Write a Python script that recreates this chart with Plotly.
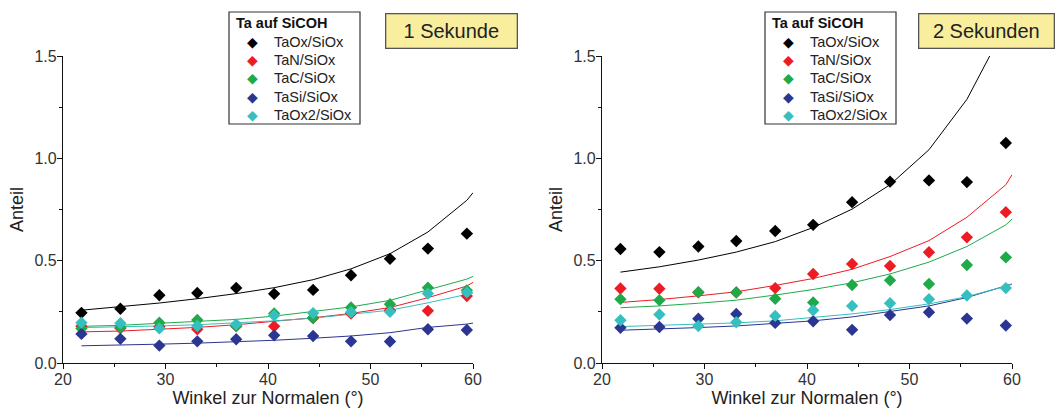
import plotly.graph_objects as go

angles = [21.8, 25.6, 29.4, 33.1, 36.9, 40.6, 44.4, 48.1, 51.9, 55.6, 59.4]
fit_angles = [21.8, 25.6, 29.4, 33.1, 36.9, 40.6, 44.4, 48.1, 51.9, 55.6, 59.4, 60.0]

series_names = ["TaOx/SiOx", "TaN/SiOx", "TaC/SiOx", "TaSi/SiOx", "TaOx2/SiOx"]
colors = ["#000000", "#ec1c24", "#1faa4a", "#2b3592", "#35bfbf"]

# 1 Sekunde
p1_taox = [0.245, 0.265, 0.331, 0.342, 0.367, 0.338, 0.357, 0.429, 0.509, 0.559, 0.632]
p1_tan = [0.180, 0.170, 0.177, 0.165, 0.180, 0.179, 0.219, 0.242, 0.258, 0.255, 0.327]
p1_tac = [0.168, 0.174, 0.197, 0.210, 0.180, 0.242, 0.221, 0.271, 0.287, 0.368, 0.355]
p1_tasi = [0.142, 0.118, 0.085, 0.106, 0.116, 0.135, 0.132, 0.106, 0.105, 0.165, 0.161]
p1_taox2 = [0.197, 0.194, 0.169, 0.181, 0.189, 0.232, 0.244, 0.248, 0.250, 0.339, 0.345]

f1_taox = [0.258, 0.274, 0.293, 0.314, 0.339, 0.368, 0.407, 0.460, 0.534, 0.640, 0.795, 0.832]
f1_tan = [0.152, 0.156, 0.165, 0.174, 0.187, 0.203, 0.221, 0.242, 0.271, 0.319, 0.376, 0.394]
f1_tac = [0.179, 0.184, 0.194, 0.202, 0.213, 0.229, 0.250, 0.274, 0.306, 0.356, 0.410, 0.423]
f1_tasi = [0.084, 0.087, 0.092, 0.097, 0.103, 0.111, 0.121, 0.132, 0.148, 0.174, 0.190, 0.195]
f1_taox2 = [0.173, 0.176, 0.181, 0.187, 0.195, 0.206, 0.219, 0.237, 0.258, 0.294, 0.335, 0.342]

# 2 Sekunden
p2_taox = [0.557, 0.542, 0.569, 0.596, 0.645, 0.675, 0.786, 0.886, 0.892, 0.884, 1.075]
p2_tan = [0.364, 0.363, 0.345, 0.345, 0.366, 0.435, 0.484, 0.474, 0.541, 0.614, 0.737]
p2_tac = [0.312, 0.307, 0.346, 0.345, 0.314, 0.296, 0.381, 0.404, 0.386, 0.479, 0.516]
p2_tasi = [0.172, 0.176, 0.216, 0.240, 0.196, 0.204, 0.162, 0.234, 0.248, 0.217, 0.183]
p2_taox2 = [0.209, 0.237, 0.181, 0.199, 0.230, 0.258, 0.279, 0.292, 0.312, 0.330, 0.366]

f2_taox = [0.444, 0.470, 0.503, 0.542, 0.593, 0.662, 0.752, 0.871, 1.042, 1.288, 1.650, 1.720]
f2_tan = [0.296, 0.310, 0.328, 0.348, 0.379, 0.413, 0.458, 0.520, 0.598, 0.712, 0.871, 0.920]
f2_tac = [0.270, 0.279, 0.292, 0.307, 0.332, 0.359, 0.392, 0.435, 0.493, 0.569, 0.675, 0.703]
f2_tasi = [0.160, 0.165, 0.173, 0.181, 0.193, 0.206, 0.225, 0.250, 0.279, 0.320, 0.376, 0.386]
f2_taox2 = [0.178, 0.183, 0.190, 0.196, 0.206, 0.221, 0.240, 0.261, 0.289, 0.324, 0.373, 0.384]

panel_titles = ["1 Sekunde", "2 Sekunden"]
legend_title = "Ta auf SiCOH"
x_title = "Winkel zur Normalen (°)"
y_title = "Anteil"
x_ticks = [20, 30, 40, 50, 60]
y_ticks = [0.0, 0.5, 1.0, 1.5]

panels = [
    dict(points=[p1_taox, p1_tan, p1_tac, p1_tasi, p1_taox2],
         fits=[f1_taox, f1_tan, f1_tac, f1_tasi, f1_taox2]),
    dict(points=[p2_taox, p2_tan, p2_tac, p2_tasi, p2_taox2],
         fits=[f2_taox, f2_tan, f2_tac, f2_tasi, f2_taox2]),
]

W, H = 1059, 412
FONT = "Liberation Sans, Arial, sans-serif"
fig = go.Figure()

for pi, panel in enumerate(panels):
    xa = "x" if pi == 0 else "x2"
    ya = "y" if pi == 0 else "y2"
    for name, col, fy in zip(series_names, colors, panel["fits"]):
        fig.add_trace(go.Scatter(x=fit_angles, y=fy, mode="lines",
                                 line=dict(color=col, width=1),
                                 showlegend=False, hoverinfo="skip",
                                 xaxis=xa, yaxis=ya))
    for name, col, py in zip(series_names, colors, panel["points"]):
        fig.add_trace(go.Scatter(x=angles, y=py, mode="markers", name=name,
                                 marker=dict(symbol="diamond", size=9.5, color=col,
                                             line=dict(width=0)),
                                 showlegend=False,
                                 xaxis=xa, yaxis=ya))

axis_common = dict(showline=True, linecolor="#111", linewidth=1.3, showgrid=False,
                   zeroline=False, ticks="outside", tickcolor="#111", ticklen=5,
                   automargin=False, ticklabelstandoff=-3,
                   tickfont=dict(family=FONT, size=16, color="#333"))

xdom = [[63 / W, 473 / W], [602 / W, 1012 / W]]
ydom = [1 - 363 / H, 1 - 56 / H]

for i in range(2):
    sfx = "" if i == 0 else "2"
    fig.update_layout(**{
        "xaxis" + sfx: dict(axis_common, domain=xdom[i], range=[20, 60],
                            tickvals=x_ticks, anchor="y" + sfx,
                            minor=dict(dtick=5, ticks="outside", ticklen=3, tickcolor="#111"),
                            title=dict(text=x_title, font=dict(family=FONT, size=18, color="#222"),
                                       standoff=4)),
        "yaxis" + sfx: dict(axis_common, domain=ydom, range=[0, 1.5],
                            tickvals=y_ticks, tickformat=".1f", anchor="x" + sfx,
                            minor=dict(dtick=0.25, ticks="outside", ticklen=3, tickcolor="#111"),
                            title=dict(text=y_title, font=dict(family=FONT, size=18, color="#222"),
                                       standoff=6)),
    })

# legend boxes (drawn as shapes + text)
legend_x0 = [229, 765]
entry_y = [41.5, 60, 78.5, 97, 115.5]
for i in range(2):
    lx = legend_x0[i]
    fig.add_shape(type="rect", xref="paper", yref="paper",
                  x0=lx / W, x1=(lx + 131) / W, y0=1 - 124 / H, y1=1 - 12 / H,
                  line=dict(color="#333", width=1.2), fillcolor="white")
    fig.add_annotation(x=(lx + 5) / W, y=1 - 23 / H, xref="paper", yref="paper",
                       xanchor="left", yanchor="middle", showarrow=False,
                       text="<b>" + legend_title + "</b>",
                       font=dict(family=FONT, size=14.5, color="#111"))
    for name, col, ey in zip(series_names, colors, entry_y):
        fig.add_annotation(x=(lx + 23.5) / W, y=1 - ey / H, xref="paper", yref="paper",
                           xanchor="center", yanchor="middle", showarrow=False,
                           text="◆", font=dict(family="DejaVu Sans", size=14, color=col))
        fig.add_annotation(x=(lx + 43) / W, y=1 - ey / H, xref="paper", yref="paper",
                           xanchor="left", yanchor="middle", showarrow=False,
                           text=name, font=dict(family=FONT, size=14.5, color="#222"))

box_x = [385 / W, 918 / W]
box_w = [124, 128]
for i, t in enumerate(panel_titles):
    fig.add_annotation(x=box_x[i], y=1 - 13 / H, xref="paper", yref="paper",
                       xanchor="left", yanchor="top", text=t, showarrow=False,
                       font=dict(family=FONT, size=20, color="#222"),
                       bgcolor="#f8ee9e", bordercolor="#555", borderwidth=1.3,
                       borderpad=3, width=box_w[i], height=27)

fig.update_layout(width=W, height=H, margin=dict(l=0, r=0, t=0, b=0),
                  plot_bgcolor="white", paper_bgcolor="white",
                  showlegend=False, font=dict(family=FONT))

fig.write_html("out.html")
